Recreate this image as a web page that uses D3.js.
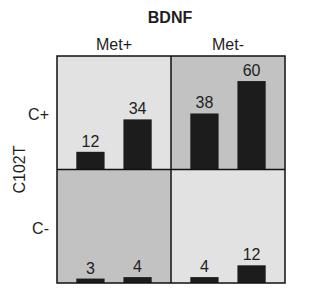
<!DOCTYPE html>
<html>
<head>
<meta charset="utf-8">
<script src="https://cdn.jsdelivr.net/npm/d3@7"></script>
<style>
body { margin: 0; background: #fff; }
text { font-family: "Liberation Sans", Arial, sans-serif; fill: #1e1e1e; }
</style>
</head>
<body>
<script>
// grid of C102T (rows) x BDNF (cols), two bars per cell
const rows = ["C+", "C-"];
const cols = ["Met+", "Met-"];
const bars = ["a", "b"];
const values = {
    "C+|Met+": [12, 34],
    "C+|Met-": [38, 60],
    "C-|Met+": [3, 4],
    "C-|Met-": [4, 12]
};
const shades = {
    "C+|Met+": "#e2e2e2",
    "C+|Met-": "#c2c2c2",
    "C-|Met+": "#c2c2c2",
    "C-|Met-": "#e2e2e2"
};

const width = 320, height = 294;
const gridLeft = 57, gridTop = 56, cellW = 114, cellH = 113.5;

const svg = d3.select("body").append("svg")
    .attr("width", width)
    .attr("height", height);

const xCol = d3.scaleBand().domain(cols).range([gridLeft, gridLeft + 2 * cellW]);
const yRow = d3.scaleBand().domain(rows).range([gridTop, gridTop + 2 * cellH]);
const xBar = d3.scaleBand().domain(bars).range([0, cellW]).paddingInner(0.4).paddingOuter(0.41);
const y = d3.scaleLinear().domain([0, 77]).range([0, cellH]);

svg.append("text")
    .attr("x", 170).attr("y", 23)
    .attr("text-anchor", "middle")
    .attr("font-size", 16).attr("font-weight", "bold")
    .text("BDNF");

svg.selectAll(".colLab").data(cols).join("text")
    .attr("class", "colLab")
    .attr("x", d => xCol(d) + cellW / 2)
    .attr("y", 50)
    .attr("text-anchor", "middle")
    .attr("font-size", 16)
    .text(d => d);

svg.selectAll(".rowLab").data(rows).join("text")
    .attr("class", "rowLab")
    .attr("x", 49)
    .attr("y", d => yRow(d) + 64)
    .attr("text-anchor", "end")
    .attr("font-size", 16)
    .text(d => d);

svg.append("text")
    .attr("transform", "translate(25," + (gridTop + cellH) + ") rotate(-90)")
    .attr("text-anchor", "middle")
    .attr("font-size", 16)
    .text("C102T");

let cells = [];
rows.forEach(r => cols.forEach(c => cells.push({ r: r, c: c, key: r + "|" + c })));

const g = svg.selectAll(".cell").data(cells).join("g")
    .attr("class", "cell")
    .attr("transform", d => "translate(" + xCol(d.c) + "," + yRow(d.r) + ")");

g.append("rect")
    .attr("width", cellW).attr("height", cellH)
    .attr("fill", d => shades[d.key]);

g.each(function(d) {
    const sel = d3.select(this);
    const vals = values[d.key].map((v, i) => ({ v: v, b: bars[i] }));
    sel.selectAll(".bar").data(vals).join("rect")
        .attr("class", "bar")
        .attr("x", e => xBar(e.b))
        .attr("width", xBar.bandwidth())
        .attr("y", e => cellH - y(e.v))
        .attr("height", e => y(e.v))
        .attr("fill", "#1c1c1c");
    sel.selectAll(".val").data(vals).join("text")
        .attr("class", "val")
        .attr("x", e => xBar(e.b) + xBar.bandwidth() / 2)
        .attr("y", e => cellH - y(e.v) - 5)
        .attr("text-anchor", "middle")
        .attr("font-size", 16)
        .text(e => e.v);
});

// frame
svg.append("rect")
    .attr("x", gridLeft).attr("y", gridTop)
    .attr("width", 2 * cellW).attr("height", 2 * cellH)
    .attr("fill", "none").attr("stroke", "#111").attr("stroke-width", 1.5);
svg.append("line")
    .attr("x1", gridLeft + cellW).attr("x2", gridLeft + cellW)
    .attr("y1", gridTop).attr("y2", gridTop + 2 * cellH)
    .attr("stroke", "#111").attr("stroke-width", 1.5);
svg.append("line")
    .attr("x1", gridLeft).attr("x2", gridLeft + 2 * cellW)
    .attr("y1", gridTop + cellH).attr("y2", gridTop + cellH)
    .attr("stroke", "#111").attr("stroke-width", 1.5);
</script>
</body>
</html>
